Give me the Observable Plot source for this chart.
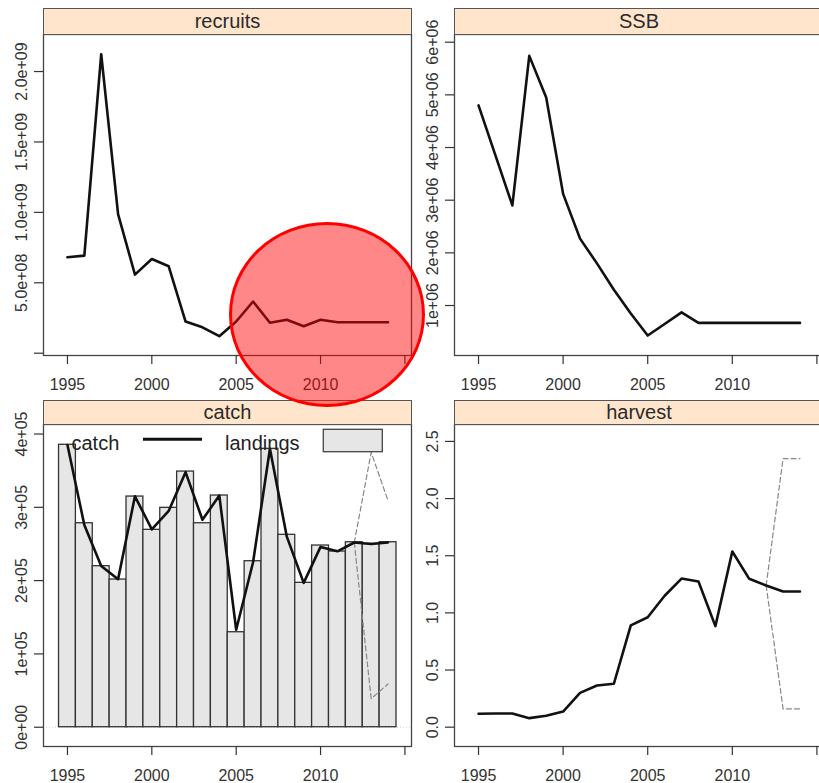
<!DOCTYPE html>
<html>
<head>
<meta charset="utf-8">
<script src="https://cdn.jsdelivr.net/npm/d3@7"></script>
<script src="https://cdn.jsdelivr.net/npm/@observablehq/plot@0.6"></script>
<style>
  body { margin: 0; background: #fff; }
  #wrap { position: relative; width: 819px; height: 783px; overflow: hidden; background: #fff;
          font-family: "Liberation Sans", Arial, sans-serif; }
  .panel { position: absolute; }
  .panel text { font-size: 16px !important; font-family: "Liberation Sans", Arial, sans-serif !important; }
  .strip { position: absolute; background: #ffe5cc; border: 1px solid #555; box-sizing: border-box;
           text-align: center; font-size: 20px; color: #2a2a2a; }
  #circle { position: absolute; left: 229px; top: 222px; width: 196px; height: 185px; box-sizing: border-box;
            border: 3px solid #ff0000; border-radius: 50%; background: rgba(255, 0, 0, 0.47); pointer-events: none; }
  #legend { position: absolute; left: 0; top: 0; pointer-events: none; }
</style>
</head>
<body>
<div id="wrap"></div>
<script>
// ---- data ----
const years = [1995, 1996, 1997, 1998, 1999, 2000, 2001, 2002, 2003, 2004,
               2005, 2006, 2007, 2008, 2009, 2010, 2011, 2012, 2013, 2014];
const recruits = [0.681e9, 0.693e9, 2.123e9, 0.988e9, 0.558e9, 0.669e9, 0.617e9, 0.225e9, 0.184e9, 0.121e9,
                  0.225e9, 0.367e9, 0.216e9, 0.237e9, 0.192e9, 0.237e9, 0.220e9, 0.220e9, 0.220e9, 0.220e9];
const ssb = [4.80e6, 3.85e6, 2.90e6, 5.74e6, 4.95e6, 3.12e6, 2.27e6, 1.80e6, 1.30e6, 0.85e6,
             0.43e6, 0.65e6, 0.87e6, 0.67e6, 0.67e6, 0.67e6, 0.67e6, 0.67e6, 0.67e6, 0.67e6];
const catchVals = [3.85e5, 2.76e5, 2.20e5, 2.02e5, 3.15e5, 2.70e5, 2.95e5, 3.48e5, 2.83e5, 3.16e5,
                   1.33e5, 2.25e5, 3.80e5, 2.60e5, 1.97e5, 2.46e5, 2.40e5, 2.52e5, 2.50e5, 2.52e5];
const landings = [3.853e5, 2.783e5, 2.197e5, 2.015e5, 3.147e5, 2.693e5, 2.993e5, 3.488e5, 2.783e5, 3.161e5,
                  1.296e5, 2.265e5, 3.798e5, 2.625e5, 1.970e5, 2.479e5, 2.397e5, 2.524e5, 2.502e5, 2.524e5];
const harvest = [0.117, 0.120, 0.120, 0.079, 0.100, 0.137, 0.300, 0.365, 0.380, 0.890,
                 0.962, 1.150, 1.300, 1.275, 0.884, 1.537, 1.298, 1.240, 1.187, 1.187];
// projection uncertainty (dashed)
const ciYears = [2012, 2013, 2014];
const catchHi = [2.52e5, 3.75e5, 3.09e5];
const catchLo = [2.52e5, 0.39e5, 0.59e5];
const harvestHi = [1.24, 2.35, 2.35];
const harvestLo = [1.24, 0.16, 0.16];

// ---- ticks ----
const xTicks = [1995, 2000, 2005, 2010, 2015];
const xTickLabels = ["1995", "2000", "2005", "2010", ""];
const recTicks = [0, 5e8, 1e9, 1.5e9, 2e9];
const recTickLabels = ["", "5.0e+08", "1.0e+09", "1.5e+09", "2.0e+09"];
const ssbTicks = [1e6, 2e6, 3e6, 4e6, 5e6, 6e6];
const ssbTickLabels = ["1e+06", "2e+06", "3e+06", "4e+06", "5e+06", "6e+06"];
const catchTicks = [0, 1e5, 2e5, 3e5, 4e5];
const catchTickLabels = ["0e+00", "1e+05", "2e+05", "3e+05", "4e+05"];
const harvestTicks = [0, 0.5, 1.0, 1.5, 2.0, 2.5];
const harvestTickLabels = ["0.0", "0.5", "1.0", "1.5", "2.0", "2.5"];

const series = (vals) => years.map((y, i) => ({year: y, value: vals[i]}));
const ciSeries = (vals) => ciYears.map((y, i) => ({year: y, value: vals[i]}));

const wrap = document.getElementById("wrap");
const xDomain = [1993.58, 2015.39];
const tickFont = 16;

function makePanel({left, top, width, height, marginBottom, yDomain, yTicks, yLabels, marks, title, stripTop, stripH}) {
  const chart = Plot.plot({
    width, height,
    marginLeft: 43, marginRight: 1, marginTop: 34, marginBottom,
    style: {fontFamily: "'Liberation Sans', Arial, sans-serif", fontSize: tickFont + "px", color: "#333",
            background: "transparent", overflow: "visible"},
    x: {domain: xDomain, label: null},
    y: {domain: yDomain, label: null},
    marks: [
      ...marks,
      Plot.frame({stroke: "#444", strokeWidth: 1.3}),
      Plot.axisX({ticks: xTicks, tickFormat: (d, i) => xTickLabels[i], tickSize: 9, tickPadding: 14,
                  strokeWidth: 1.2, fontSize: tickFont, label: null}),
      Plot.axisY({ticks: yTicks, tickFormat: (d, i) => yLabels[i], tickSize: 9, tickRotate: -90,
                  tickPadding: 8, strokeWidth: 1.2, fontSize: tickFont, label: null})
    ]
  });
  chart.classList.add("panel");
  chart.style.left = left + "px";
  chart.style.top = top + "px";
  wrap.appendChild(chart);
  const strip = document.createElement("div");
  strip.className = "strip";
  strip.style.left = (left + 43) + "px";
  strip.style.top = stripTop + "px";
  strip.style.width = (width - 44 + 1) + "px";
  strip.style.height = stripH + "px";
  strip.style.lineHeight = (stripH - 2) + "px";
  strip.textContent = title;
  wrap.appendChild(strip);
}

const lineStyle = {x: "year", y: "value", stroke: "#111", strokeWidth: 2.6, strokeLinejoin: "round"};
const dashStyle = {x: "year", y: "value", stroke: "#888", strokeWidth: 1.2, strokeDasharray: "5,3"};

// recruits
makePanel({
  left: 0, top: 0, width: 412, height: 395, marginBottom: 40,
  yDomain: [-0.0163e9, 2.263e9], yTicks: recTicks, yLabels: recTickLabels,
  title: "recruits", stripTop: 8, stripH: 27,
  marks: [Plot.line(series(recruits), lineStyle)]
});
// SSB
makePanel({
  left: 411, top: 0, width: 413, height: 395, marginBottom: 40,
  yDomain: [0.051e6, 6.146e6], yTicks: ssbTicks, yLabels: ssbTickLabels,
  title: "SSB", stripTop: 8, stripH: 27,
  marks: [Plot.line(series(ssb), lineStyle)]
});
// catch
makePanel({
  left: 0, top: 390, width: 412, height: 393, marginBottom: 37,
  yDomain: [-0.263e5, 4.13e5], yTicks: catchTicks, yLabels: catchTickLabels,
  title: "catch", stripTop: 400, stripH: 25,
  marks: [
    Plot.ruleY([0], {stroke: "#ccc", strokeDasharray: "1,2"}),
    Plot.rectY(series(landings), {x1: d => d.year - 0.5, x2: d => d.year + 0.5, y: "value",
                                  fill: "#e6e6e6", stroke: "#333", strokeWidth: 1.3}),
    Plot.line(ciSeries(catchHi), dashStyle),
    Plot.line(ciSeries(catchLo), dashStyle),
    Plot.line(series(catchVals), lineStyle)
  ]
});
// harvest
makePanel({
  left: 411, top: 390, width: 413, height: 393, marginBottom: 37,
  yDomain: [-0.169, 2.648], yTicks: harvestTicks, yLabels: harvestTickLabels,
  title: "harvest", stripTop: 400, stripH: 25,
  marks: [
    Plot.line(ciSeries(harvestHi), dashStyle),
    Plot.line(ciSeries(harvestLo), dashStyle),
    Plot.line(series(harvest), lineStyle)
  ]
});

// legend of the catch panel
const ns = "http://www.w3.org/2000/svg";
const leg = document.createElementNS(ns, "svg");
leg.setAttribute("id", "legend");
leg.setAttribute("width", 819);
leg.setAttribute("height", 783);
leg.innerHTML = `
  <g font-family="'Liberation Sans', Arial, sans-serif" font-size="20" fill="#222">
    <text x="71.5" y="449.7">catch</text>
    <line x1="143" x2="202" y1="439.3" y2="439.3" stroke="#111" stroke-width="3"/>
    <text x="225" y="449.7">landings</text>
    <rect x="323.3" y="429.3" width="59" height="22.4" fill="#e6e6e6" stroke="#444" stroke-width="1.3"/>
  </g>`;
wrap.appendChild(leg);

const circle = document.createElement("div");
circle.id = "circle";
wrap.appendChild(circle);
</script>
</body>
</html>
